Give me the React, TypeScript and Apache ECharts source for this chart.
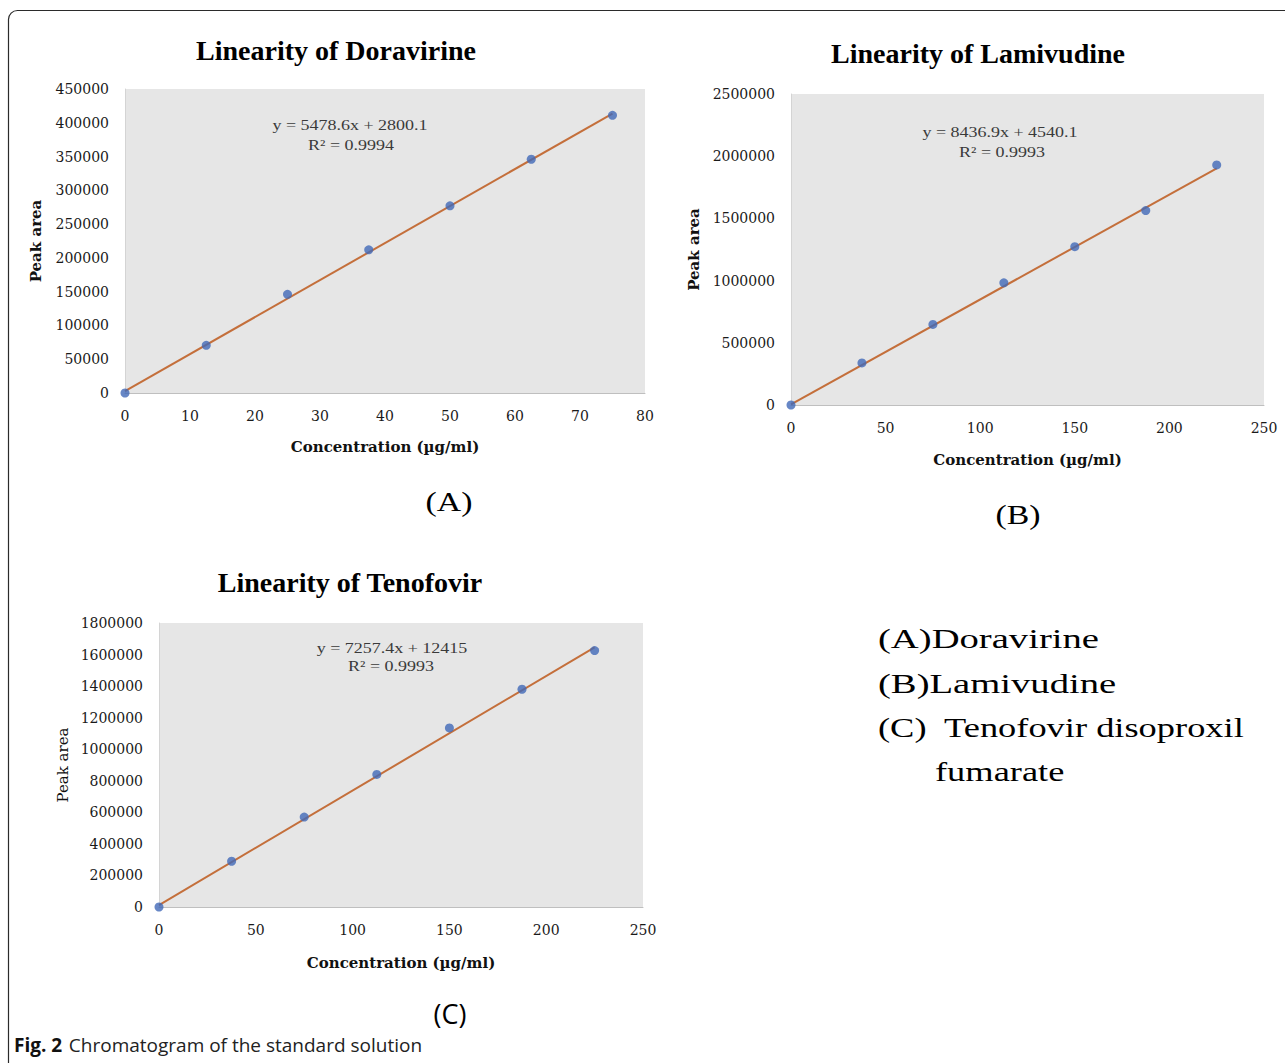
import React, { useEffect, useRef } from "react";
import * as echarts from "echarts";

// ---- data ----
const concA = [0, 12.5, 25, 37.5, 50, 62.5, 75];
const areaA = [0, 70500, 146000, 212000, 277000, 346000, 411000];
const trendA = [[0, 2800], [75, 413700]];

const concB = [0, 37.5, 75, 112.5, 150, 187.5, 225];
const areaB = [0, 338000, 648000, 982000, 1273000, 1563000, 1930000];
const trendB = [[0, 4540], [225, 1902800]];

const concC = [0, 37.5, 75, 112.5, 150, 187.5, 225];
const areaC = [0, 290000, 570000, 840000, 1135000, 1380000, 1625000];
const trendC = [[0, 12415], [225, 1645300]];

const xMax = [80, 250, 250];
const xStep = [10, 50, 50];
const yMax = [450000, 2500000, 1800000];
const yStep = [50000, 500000, 200000];

const titles = ["Linearity of Doravirine", "Linearity of Lamivudine", "Linearity of Tenofovir"];
const equations = ["y = 5478.6x + 2800.1", "y = 8436.9x + 4540.1", "y = 7257.4x + 12415"];
const r2Texts = ["R² = 0.9994", "R² = 0.9993", "R² = 0.9993"];
const panelLabels = ["(A)", "(B)", "(C)"];
const legendLines = ["(A)Doravirine", "(B)Lamivudine", "(C)  Tenofovir disoproxil", "fumarate"];
const xName = "Concentration (µg/ml)";
const yName = "Peak area";
const captionBold = "Fig. 2";
const captionText = "Chromatogram of the standard solution";

const SERIF = '"Liberation Serif", "Times New Roman", serif';
const WIDE_SERIF = '"DejaVu Serif", serif';
const SANS = '"Open Sans", "Noto Sans", sans-serif';

const grids = [
  { left: 125, top: 89, width: 520, height: 304 },
  { left: 791, top: 94, width: 473, height: 311 },
  { left: 159, top: 623, width: 484, height: 284 },
];

const yNameGap = [82, 90, 89];
const xNameGap = [46, 47, 48];
const yNameBold = [true, true, false];

function txt(x: number, y: number, text: string, font: string, opts: any = {}) {
  const align = opts.align || "center";
  return {
    type: "text",
    x,
    y,
    scaleX: opts.scaleX || 1,
    silent: true,
    z: 10,
    style: {
      text,
      font,
      fill: opts.fill || "#000",
      textAlign: align,
      align,
      textVerticalAlign: "middle",
      verticalAlign: "middle",
    },
  };
}

export default function App() {
  const ref = useRef<HTMLDivElement>(null);
  useEffect(() => {
    if (!ref.current) return;
    const chart = echarts.init(ref.current, null, { renderer: "svg" });

    const concs = [concA, concB, concC];
    const areas = [areaA, areaB, areaC];
    const trends = [trendA, trendB, trendC];

    const xAxis = grids.map((_, i) => ({
      type: "value",
      gridIndex: i,
      min: 0,
      max: xMax[i],
      interval: xStep[i],
      name: xName,
      nameLocation: "middle",
      nameGap: xNameGap[i],
      nameTextStyle: { fontFamily: WIDE_SERIF, fontWeight: "bold", fontSize: 15, color: "#111" },
      axisLine: { show: true, lineStyle: { color: "#bfbfbf", width: 1 } },
      axisTick: { show: false },
      splitLine: { show: false },
      axisLabel: {
        fontFamily: WIDE_SERIF,
        fontSize: 14,
        color: "#1a1a1a",
        margin: 16,
        formatter: (v: number) => String(v),
      },
    }));

    const yAxis = grids.map((_, i) => ({
      type: "value",
      gridIndex: i,
      min: 0,
      max: yMax[i],
      interval: yStep[i],
      name: yName,
      nameLocation: "middle",
      nameGap: yNameGap[i],
      nameRotate: 90,
      nameTextStyle: {
        fontFamily: WIDE_SERIF,
        fontWeight: yNameBold[i] ? "bold" : "normal",
        fontSize: 15,
        color: "#111",
      },
      axisLine: { show: true, lineStyle: { color: "#d4d4d4", width: 1 } },
      axisTick: { show: false },
      splitLine: { show: false },
      axisLabel: {
        fontFamily: WIDE_SERIF,
        fontSize: 14,
        color: "#1a1a1a",
        margin: 16,
        formatter: (v: number) => String(v),
      },
    }));

    const series: any[] = [];
    grids.forEach((_, i) => {
      series.push({
        type: "line",
        xAxisIndex: i,
        yAxisIndex: i,
        data: trends[i],
        showSymbol: false,
        symbol: "none",
        lineStyle: { color: "#C46F3B", width: 2 },
        z: 2,
      });
      series.push({
        type: "scatter",
        xAxisIndex: i,
        yAxisIndex: i,
        data: concs[i].map((x, k) => [x, areas[i][k]]),
        symbolSize: 9,
        itemStyle: { color: "#4169B8" },
        z: 3,
      });
    });

    const graphic: any[] = [
      {
        type: "rect",
        silent: true,
        z: 0,
        shape: { x: 8.5, y: 10.5, width: 1320, height: 1120, r: 9 },
        style: { fill: "none", stroke: "#2b2b2b", lineWidth: 1.2 },
      },
      // titles
      txt(336, 50, titles[0], `bold 28px ${SERIF}`),
      txt(978, 53, titles[1], `bold 28px ${SERIF}`),
      txt(350, 582, titles[2], `bold 28px ${SERIF}`),
      // equations
      txt(350, 125, equations[0], `15px ${SERIF}`, { scaleX: 1.2, fill: "#3a3a3a" }),
      txt(351, 145, r2Texts[0], `15px ${SERIF}`, { scaleX: 1.2, fill: "#3a3a3a" }),
      txt(1000, 132, equations[1], `15px ${SERIF}`, { scaleX: 1.2, fill: "#3a3a3a" }),
      txt(1002, 152, r2Texts[1], `15px ${SERIF}`, { scaleX: 1.2, fill: "#3a3a3a" }),
      txt(392, 648, equations[2], `15px ${SERIF}`, { scaleX: 1.2, fill: "#3a3a3a" }),
      txt(391, 666, r2Texts[2], `15px ${SERIF}`, { scaleX: 1.2, fill: "#3a3a3a" }),
      // panel labels
      txt(449, 502, panelLabels[0], `27px ${SERIF}`, { scaleX: 1.25 }),
      txt(1018, 515, panelLabels[1], `27px ${SERIF}`, { scaleX: 1.25 }),
      txt(450, 1013, panelLabels[2], `27px ${SANS}`),
      // right-hand legend text
      txt(878, 638, legendLines[0], `28px ${SERIF}`, { align: "left", scaleX: 1.38 }),
      txt(878, 683, legendLines[1], `28px ${SERIF}`, { align: "left", scaleX: 1.38 }),
      txt(878, 728, legendLines[2], `28px ${SERIF}`, { align: "left", scaleX: 1.3 }),
      txt(935, 772, legendLines[3], `28px ${SERIF}`, { align: "left", scaleX: 1.3 }),
      // caption
      {
        type: "text",
        x: 14,
        y: 1045,
        silent: true,
        z: 10,
        style: {
          text: `{b|${captionBold}}  {r|${captionText}}`,
          textAlign: "left",
          align: "left",
          textVerticalAlign: "middle",
          verticalAlign: "middle",
          rich: {
            b: { fontFamily: SANS, fontWeight: "bold", fontSize: 19, fill: "#111", color: "#111" },
            r: { fontFamily: SANS, fontWeight: "normal", fontSize: 19, fill: "#222", color: "#222" },
          },
        },
      },
    ];

    chart.setOption({
      animation: false,
      backgroundColor: "#ffffff",
      grid: grids.map((g) => ({
        ...g,
        show: true,
        backgroundColor: "#e6e6e6",
        borderWidth: 0,
        containLabel: false,
      })),
      xAxis,
      yAxis,
      series,
      graphic,
    });

    return () => chart.dispose();
  }, []);

  return (
    <div
      ref={ref}
      style={{ position: "absolute", left: 0, top: 0, width: 1285, height: 1063, background: "#fff" }}
    />
  );
}
